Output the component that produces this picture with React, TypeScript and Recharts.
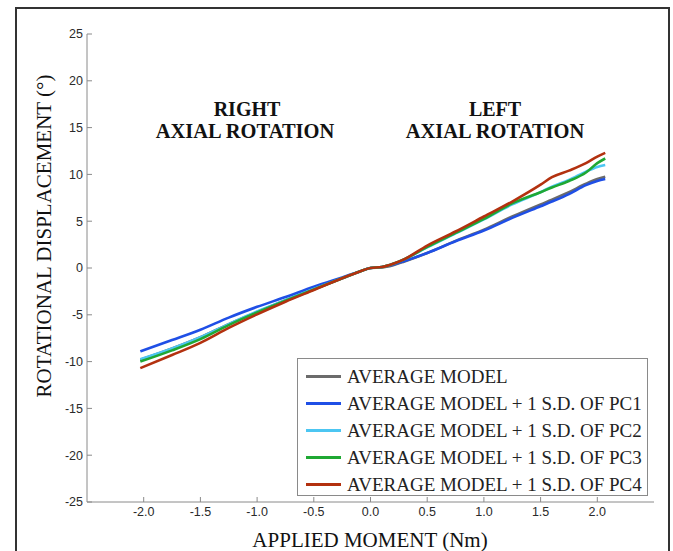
import React from "react";
import { LineChart, Line, XAxis, YAxis, Legend, Customized } from "recharts";

const MOMENT = [-2.03, -1.75, -1.5, -1.25, -1.0, -0.75, -0.5, -0.25, -0.1, 0, 0.1, 0.2, 0.3, 0.5, 0.75, 1.0, 1.25, 1.5, 1.6, 1.75, 1.9, 2.0, 2.07];
const AVG = [-9.8, -8.6, -7.4, -6.0, -4.7, -3.45, -2.25, -1.1, -0.4, 0, 0.05, 0.3, 0.7, 1.6, 2.9, 4.1, 5.5, 6.8, 7.3, 8.1, 9.0, 9.5, 9.75];
const PC1 = [-8.9, -7.7, -6.6, -5.3, -4.15, -3.1, -2.0, -1.0, -0.4, 0, 0.1, 0.35, 0.75, 1.6, 2.85, 4.0, 5.35, 6.6, 7.1, 7.9, 8.85, 9.3, 9.5];
const PC2 = [-9.75, -8.6, -7.4, -6.0, -4.65, -3.45, -2.25, -1.1, -0.4, 0, 0.1, 0.45, 0.95, 2.2, 3.7, 5.2, 6.8, 8.1, 8.7, 9.4, 10.3, 10.8, 11.0];
const PC3 = [-10.0, -8.8, -7.6, -6.1, -4.75, -3.5, -2.3, -1.1, -0.4, 0, 0.1, 0.45, 0.95, 2.25, 3.75, 5.25, 6.9, 8.1, 8.6, 9.3, 10.2, 11.2, 11.7];
const PC4 = [-10.7, -9.3, -8.0, -6.4, -4.95, -3.6, -2.35, -1.1, -0.4, 0, 0.1, 0.45, 0.95, 2.4, 3.9, 5.5, 7.1, 8.9, 9.7, 10.4, 11.2, 11.9, 12.3];

const X_TICKS = [-2, -1.5, -1, -0.5, 0, 0.5, 1, 1.5, 2];
const Y_TICKS = [-25, -20, -15, -10, -5, 0, 5, 10, 15, 20, 25];

const SERIES = [
  { key: "avg", name: "AVERAGE MODEL", values: AVG, color: "#6b6b6b" },
  { key: "pc1", name: "AVERAGE MODEL + 1 S.D. OF PC1", values: PC1, color: "#1f4fe6" },
  { key: "pc2", name: "AVERAGE MODEL + 1 S.D. OF PC2", values: PC2, color: "#4cc6f2" },
  { key: "pc3", name: "AVERAGE MODEL + 1 S.D. OF PC3", values: PC3, color: "#1fa833" },
  { key: "pc4", name: "AVERAGE MODEL + 1 S.D. OF PC4", values: PC4, color: "#b3310f" },
];

const data = MOMENT.map((x, i) => {
  const row: any = { x };
  SERIES.forEach((s) => (row[s.key] = s.values[i]));
  return row;
});

const AXIS_COLOR = "#8a8a8a";
const tickStyle = { fontFamily: "'Liberation Sans', Arial, sans-serif", fontSize: 12.5, fill: "#2a2a2a" };
const serif = "'Liberation Serif', 'Times New Roman', serif";

const LegendBox = (props: any) => {
  const payload = props.payload || [];
  return (
    <div
      style={{
        width: 351,
        height: 138,
        boxSizing: "border-box",
        border: "1px solid #8a8a8a",
        background: "#fff",
        padding: "4px 0 0 8px",
      }}
    >
      {payload.map((p: any) => (
        <div key={p.value} style={{ display: "flex", alignItems: "center", height: 27 }}>
          <div style={{ width: 35, height: 2.5, background: p.color, marginRight: 6 }} />
          <span style={{ fontFamily: serif, fontSize: 19, color: "#222", whiteSpace: "nowrap" }}>{p.value}</span>
        </div>
      ))}
    </div>
  );
};

const Texts = () => (
  <g>
    <text x={247} y={116} textAnchor="middle" fontFamily={serif} fontWeight="bold" fontSize={20} fill="#111">RIGHT</text>
    <text x={245} y={138} textAnchor="middle" fontFamily={serif} fontWeight="bold" fontSize={20.5} fill="#111">AXIAL ROTATION</text>
    <text x={495} y={116} textAnchor="middle" fontFamily={serif} fontWeight="bold" fontSize={20} fill="#111">LEFT</text>
    <text x={495} y={138} textAnchor="middle" fontFamily={serif} fontWeight="bold" fontSize={20.5} fill="#111">AXIAL ROTATION</text>
    <text x={370} y={547} textAnchor="middle" fontFamily={serif} fontSize={21} fill="#111">APPLIED MOMENT (Nm)</text>
    <text
      x={44}
      y={236}
      textAnchor="middle"
      dominantBaseline="central"
      transform="rotate(-90 44 236)"
      fontFamily={serif}
      fontSize={21}
      fill="#111"
    >
      ROTATIONAL DISPLACEMENT (°)
    </text>
  </g>
);

export default function App() {
  return (
    <div style={{ position: "absolute", left: 0, top: 0, width: 673, height: 551, overflow: "hidden", background: "#fff" }}>
      <div
        style={{
          position: "absolute",
          left: 15,
          top: 7,
          width: 655,
          height: 600,
          boxSizing: "border-box",
          border: "2px solid #333",
        }}
      />
      <div style={{ position: "absolute", left: 0, top: 0 }}>
        <LineChart width={673} height={551} data={data} margin={{ top: 34, right: 19, bottom: 0, left: 0 }}>
          <XAxis
            dataKey="x"
            type="number"
            domain={[-2.5, 2.5]}
            ticks={X_TICKS}
            tickFormatter={(v: number) => v.toFixed(1)}
            height={49}
            tickSize={-5}
            tickMargin={10}
            stroke={AXIS_COLOR}
            tick={tickStyle}
            allowDataOverflow
          />
          <XAxis
            xAxisId="top"
            dataKey="x"
            type="number"
            orientation="top"
            domain={[-2.5, 2.5]}
            ticks={X_TICKS}
            tickFormatter={() => ""}
            height={0}
            tickSize={-5}
            stroke={AXIS_COLOR}
            allowDataOverflow
          />
          <YAxis
            type="number"
            domain={[-25, 25]}
            ticks={Y_TICKS}
            width={87}
            tickSize={-5}
            tickMargin={9}
            stroke={AXIS_COLOR}
            tick={tickStyle}
            allowDataOverflow
          />
          <YAxis
            yAxisId="right"
            type="number"
            orientation="right"
            domain={[-25, 25]}
            ticks={Y_TICKS}
            tickFormatter={() => ""}
            width={0}
            tickSize={-5}
            stroke={AXIS_COLOR}
            allowDataOverflow
          />
          {SERIES.map((s) => (
            <Line
              key={s.key}
              type="monotone"
              dataKey={s.key}
              name={s.name}
              stroke={s.color}
              strokeWidth={2.6}
              dot={false}
              activeDot={false}
              isAnimationActive={false}
            />
          ))}
          <Legend
            layout="vertical"
            align="center"
            verticalAlign="middle"
            content={<LegendBox />}
            wrapperStyle={{ position: "absolute", left: 297, top: 358, width: 351, height: 138 }}
          />
          <Customized component={<Texts />} />
        </LineChart>
      </div>
    </div>
  );
}
